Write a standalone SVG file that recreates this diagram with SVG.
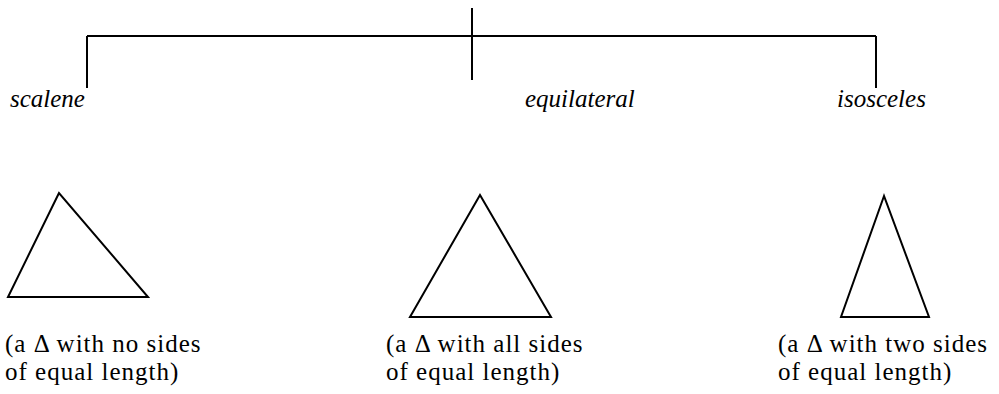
<svg xmlns="http://www.w3.org/2000/svg" width="999" height="394" viewBox="0 0 999 394">
<style>
.ln{stroke:#000;stroke-width:2;fill:none}
.tri{stroke:#000;stroke-width:2;fill:none;stroke-linejoin:miter}
text{font-family:"Liberation Serif","Times New Roman",serif;fill:#000}
.lbl{font-style:italic;font-size:25px}
.cap{font-size:25px;letter-spacing:1px}
</style>
<rect width="999" height="394" fill="#fff"/>
<g id="connectors">
<line class="ln" x1="472" y1="8" x2="472" y2="80"/>
<line class="ln" x1="87" y1="36" x2="876" y2="36"/>
<line class="ln" x1="87" y1="36" x2="87" y2="88"/>
<line class="ln" x1="876" y1="36" x2="876" y2="88"/>
</g>
<g id="scalene">
<text class="lbl" x="10" y="107">scalene</text>
<polygon class="tri" points="59,193 8,297 148,297"/>
<text class="cap" y="352"><tspan x="5">(a Δ with no sides</tspan><tspan x="5" dy="28">of equal length)</tspan></text>
</g>
<g id="equilateral">
<text class="lbl" x="525" y="107">equilateral</text>
<polygon class="tri" points="480,195 410,317 551,317"/>
<text class="cap" y="352"><tspan x="386">(a Δ with all sides</tspan><tspan x="386" dy="28">of equal length)</tspan></text>
</g>
<g id="isosceles">
<text class="lbl" x="837" y="107">isosceles</text>
<polygon class="tri" points="884,196 841,317 929,317"/>
<text class="cap" y="352"><tspan x="778">(a Δ with two sides</tspan><tspan x="778" dy="28">of equal length)</tspan></text>
</g>
</svg>
